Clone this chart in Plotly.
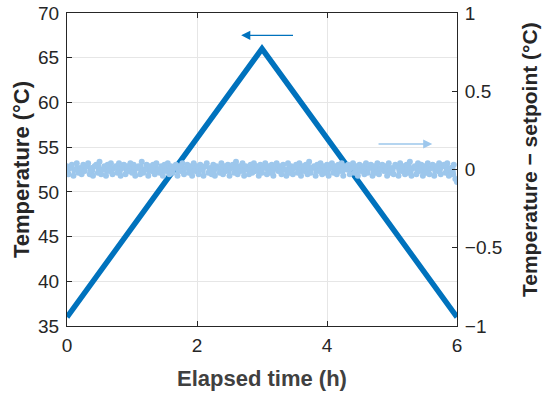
import plotly.graph_objects as go

# Temperature profile (left axis)
temp_time = [0, 3, 6]
temp_vals = [36, 66, 36]

# Deviation from setpoint (right axis), sampled every 1.5 min
dev_vals = [
    0.02, -0.03, 0.01, 0.03, -0.04, 0.00, 0.04, -0.02, 0.01, -0.03,
    0.03, -0.01, 0.02, 0.04, -0.03, 0.01, -0.04, 0.02, 0.03, -0.02,
    0.05, -0.03, 0.00, 0.02, -0.04, 0.03, -0.01, 0.04, -0.03, 0.01,
    0.02, -0.02, 0.04, -0.04, 0.01, 0.03, -0.03, 0.02, -0.01, 0.04,
    -0.02, 0.03, -0.04, 0.01, 0.02, -0.03, 0.05, -0.02, 0.00, 0.03,
    -0.04, 0.02, -0.01, 0.03, -0.03, 0.04, 0.00, -0.02, 0.02, -0.04,
    0.03, -0.01, 0.04, -0.03, 0.02, -0.02, 0.01, 0.03, -0.04, 0.02,
    -0.01, 0.04, -0.03, 0.01, 0.03, -0.02, 0.02, -0.04, 0.04, -0.01,
    0.02, -0.03, 0.03, 0.00, -0.04, 0.02, 0.04, -0.02, 0.01, -0.03,
    0.03, -0.04, 0.02, 0.01, -0.02, 0.04, -0.03, 0.02, -0.01, 0.03,
    -0.04, 0.01, 0.03, -0.02, 0.05, -0.03, 0.02, -0.01, 0.04, -0.04,
    0.02, 0.00, -0.03, 0.03, -0.02, 0.04, -0.01, 0.02, -0.04, 0.03,
    -0.02, 0.01, 0.04, -0.03, 0.02, -0.02, 0.03, -0.04, 0.01, 0.04,
    -0.01, 0.02, -0.03, 0.03, 0.00, -0.04, 0.04, -0.02, 0.02, -0.03,
    0.01, 0.03, -0.02, 0.04, -0.04, 0.02, -0.01, 0.03, -0.03, 0.05,
    -0.02, 0.01, 0.02, -0.04, 0.03, -0.01, 0.04, -0.03, 0.02, -0.02,
    0.03, -0.04, 0.01, 0.04, -0.02, 0.02, -0.03, 0.03, -0.01, 0.04,
    -0.04, 0.02, 0.00, 0.03, -0.03, 0.01, 0.04, -0.02, 0.02, -0.04,
    0.03, -0.01, 0.02, -0.03, 0.04, -0.02, 0.01, 0.03, -0.04, 0.02,
    -0.02, 0.04, -0.03, 0.01, 0.03, -0.01, 0.02, -0.04, 0.04, -0.02,
    0.01, -0.03, 0.03, 0.02, -0.04, 0.04, -0.01, 0.02, -0.03, 0.03,
    -0.02, 0.05, -0.04, 0.01, 0.02, -0.03, 0.04, -0.01, 0.03, -0.04,
    0.02, -0.02, 0.04, -0.03, 0.01, 0.03, -0.04, 0.02, -0.01, 0.04,
    -0.03, 0.02, 0.03, -0.02, 0.04, -0.04, 0.01, -0.03, 0.03, -0.06,
    -0.08,
]
dev_time = [i * 6 / (len(dev_vals) - 1) for i in range(len(dev_vals))]

x_ticks = [0, 2, 4, 6]
y_left_ticks = [35, 40, 45, 50, 55, 60, 65, 70]
y_right_ticks = [-1, -0.5, 0, 0.5, 1]
y_right_labels = ["\u22121", "\u22120.5", "0", "0.5", "1"]

DARK = "#0072BD"
LIGHT = "#9DC7EC"
FONT = "Liberation Sans"
TXT = "#262626"

L, R, T, B = 67, 93, 13, 71
W, H = 550, 397

fig = go.Figure()
fig.add_trace(go.Scatter(
    x=temp_time, y=temp_vals, mode="lines",
    line=dict(color=DARK, width=5.5), showlegend=False, hoverinfo="skip"))
fig.add_trace(go.Scatter(
    x=dev_time, y=dev_vals, yaxis="y2", mode="lines+markers",
    line=dict(color=LIGHT, width=2.5), marker=dict(color=LIGHT, size=6),
    showlegend=False, hoverinfo="skip"))


def px_to_paper(px, py):
    return (px - L) / (W - L - R), ((H - py) - B) / (H - T - B)


ax_t = px_to_paper(262, 378)
ay_t = px_to_paper(21, 170)
ar_t = px_to_paper(529, 160)

fig.update_layout(
    width=W, height=H,
    margin=dict(l=L, r=R, t=T, b=B),
    paper_bgcolor="white", plot_bgcolor="white",
    font=dict(family=FONT, size=19, color=TXT),
    hovermode=False,
    xaxis=dict(
        range=[0, 6], tickvals=x_ticks, ticks="inside", ticklen=5,
        tickcolor=TXT, showline=True, linecolor=TXT, linewidth=1,
        mirror="ticks", showgrid=True, gridcolor="#E6E6E6", zeroline=False,
        automargin=False, ticklabelstandoff=2,
    ),
    yaxis=dict(
        range=[35, 70], tickvals=y_left_ticks, ticks="inside", ticklen=5,
        tickcolor=TXT, showline=True, linecolor=TXT, linewidth=1,
        showgrid=True, gridcolor="#E6E6E6", zeroline=False,
        automargin=False, ticklabelstandoff=3,
    ),
    yaxis2=dict(
        range=[-1, 1], tickvals=y_right_ticks, ticktext=y_right_labels,
        overlaying="y", side="right", ticks="inside", ticklen=5,
        tickcolor=TXT, showline=True, linecolor=TXT, linewidth=1,
        showgrid=False, zeroline=False, automargin=False, ticklabelstandoff=3,
    ),
    annotations=[
        dict(x=2.68, y=67.5, xref="x", yref="y", ax=3.5, ay=67.5,
             axref="x", ayref="y", showarrow=True, arrowhead=2,
             arrowsize=1.4, arrowwidth=1.3, arrowcolor=DARK, text=""),
        dict(x=5.62, y=0.163, xref="x", yref="y2", ax=4.77, ay=0.163,
             axref="x", ayref="y2", showarrow=True, arrowhead=2,
             arrowsize=1.4, arrowwidth=1.3, arrowcolor=LIGHT, text=""),
        dict(text="<b>Elapsed time (h)</b>", x=ax_t[0], y=ax_t[1],
             xref="paper", yref="paper", showarrow=False,
             xanchor="center", yanchor="middle",
             font=dict(size=22, color="#404040")),
        dict(text="<b>Temperature (°C)</b>", x=ay_t[0], y=ay_t[1],
             xref="paper", yref="paper", showarrow=False, textangle=-90,
             xanchor="center", yanchor="middle",
             font=dict(size=22, color=TXT)),
        dict(text="<b>Temperature \u2212 setpoint (°C)</b>", x=ar_t[0], y=ar_t[1],
             xref="paper", yref="paper", showarrow=False, textangle=-90,
             xanchor="center", yanchor="middle",
             font=dict(size=21, color=TXT)),
    ],
)

fig.write_html("out.html", config={"displayModeBar": False},
               post_script="document.body.style.margin='0';")
